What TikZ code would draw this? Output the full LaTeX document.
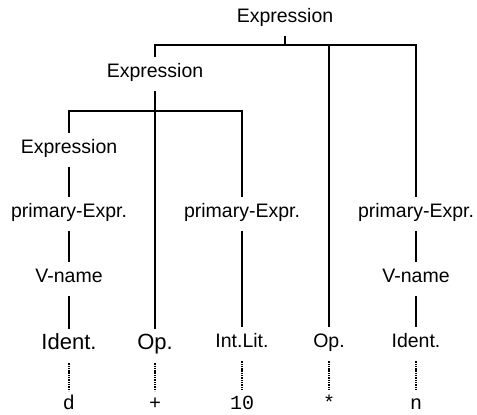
\documentclass[tikz,border=0pt]{standalone}
\usepackage{fontspec}
\setmainfont{Liberation Sans}
\setmonofont{Liberation Mono}
\tikzset{
    lbl/.style={anchor=base, inner xsep=1pt, inner ysep=6pt, text height=14pt, text depth=8pt,
        font=\fontsize{19.5}{22}\selectfont},
    biglbl/.style={lbl, font=\fontsize{22}{24}\selectfont},
    tok/.style={lbl, inner ysep=1pt, text height=17pt, text depth=0pt,
        font=\ttfamily\fontsize{20}{22}\selectfont},
    edge/.style={line width=1.7pt},
    spelled/.style={line width=2pt, dash pattern=on 1.4pt off 0.9pt}
}
\begin{document}
\begin{tikzpicture}[x=1pt, y=-1pt]
        \useasboundingbox (0,0) rectangle (477,415);
        \coordinate (bar1) at (0,45);
        \coordinate (bar2) at (0,111);
        % phrase nodes
        \node[lbl] (exprtop) at (285,22) {Expression};
        \node[lbl] (exprmid) at (155,77) {Expression};
        \node[lbl] (exprd) at (69,153) {Expression};
        \node[lbl] (primd) at (69,217) {primary-Expr.};
        \node[lbl] (primlit) at (242,217) {primary-Expr.};
        \node[lbl] (primn) at (416,217) {primary-Expr.};
        \node[lbl] (vnamed) at (69,282) {V-name};
        \node[lbl] (vnamen) at (416,282) {V-name};
        % terminals
        \node[biglbl] (identd) at (69,349) {Ident.};
        \node[biglbl] (opplus) at (155,349) {Op.};
        \node[lbl] (intlit) at (242,347) {Int.Lit.};
        \node[lbl] (optimes) at (329,347) {Op.};
        \node[lbl] (identn) at (416,347) {Ident.};
        % spellings
        \node[tok] (spd) at (69,409) {d};
        \node[tok] (spplus) at (155,409) {+};
        \node[tok] (split) at (242,409) {10};
        \node[tok] (sptimes) at (329,409) {*};
        \node[tok] (spn) at (416,409) {n};
        % top level
        \draw[edge, line width=2.6pt] (exprtop.south) -- (exprtop.south |- bar1);
        \draw[edge] (exprmid.north) -- (exprmid.north |- bar1) -| (primn.north);
        \draw[edge] (optimes.north) -- (optimes.north |- bar1);
        % left subtree
        \draw[edge] (exprmid.south) -- (opplus.north);
        \draw[edge] (exprd.north) -- (exprd.north |- bar2) -| (primlit.north);
        \draw[edge] (exprd.south) -- (primd.north);
        \draw[edge] (primd.south) -- (vnamed.north);
        \draw[edge] (vnamed.south) -- (identd.north);
        \draw[edge, line width=2.2pt] (primlit.south) -- (intlit.north);
        % right branch
        \draw[edge] (primn.south) -- (vnamen.north);
        \draw[edge] (vnamen.south) -- (identn.north);
        % dotted links to the source text
        \draw[spelled] (identd.south) -- (spd.north);
        \draw[spelled] (opplus.south) -- (spplus.north);
        \draw[spelled] (intlit.south) -- (split.north);
        \draw[spelled] (optimes.south) -- (sptimes.north);
        \draw[spelled] (identn.south) -- (spn.north);
    \end{tikzpicture}
\end{document}
